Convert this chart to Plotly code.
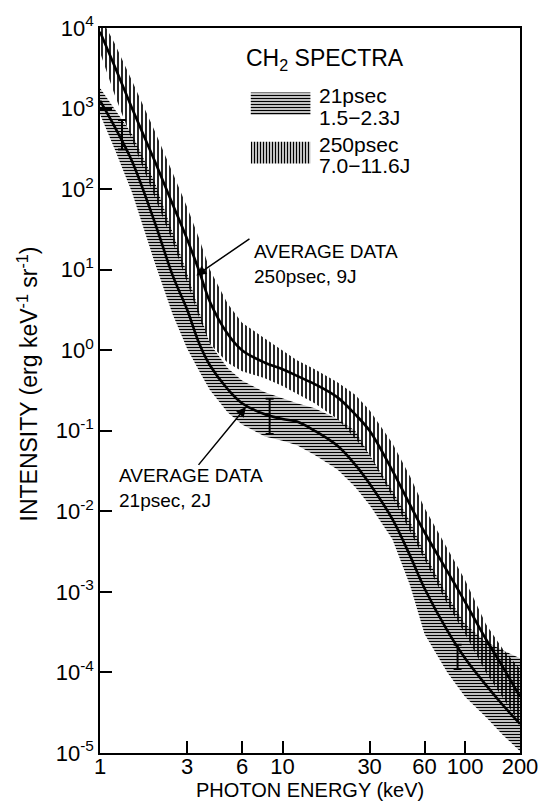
import numpy as np
import plotly.graph_objects as go

# ---------------- data ----------------
energy = [1, 1.2, 1.5, 2, 2.5, 3, 3.5, 4, 5, 6, 8, 10, 12, 15, 20, 25, 30, 40,
          50, 60, 80, 100, 130, 160, 200]

# 250 psec, 7.0-11.6 J  (vertical hatching)
avg_250 = [9000, 3400, 1000, 220, 65, 24, 9.5, 4.0, 1.6, 1.0, 0.70, 0.58, 0.48,
           0.38, 0.26, 0.16, 0.10, 0.032, 0.012, 0.0055, 0.0018, 0.00075,
           0.00026, 0.00012, 0.00005]
hi_250 = [14000, 6500, 2200, 520, 160, 60, 24, 10, 3.8, 2.2, 1.4, 1.0, 0.75,
          0.58, 0.40, 0.28, 0.18, 0.07, 0.027, 0.011, 0.0035, 0.0014, 0.0004,
          0.0002, 0.00011]
lo_250 = [5000, 1500, 400, 80, 22, 7, 2.5, 1.2, 0.7, 0.55, 0.45, 0.36, 0.29,
          0.22, 0.14, 0.08, 0.05, 0.015, 0.0055, 0.0025, 0.0007, 0.0003,
          0.0001, 0.00005, 0.000023]

# 21 psec, 1.5-2.3 J  (horizontal hatching)
avg_21 = [1250, 600, 220, 38, 8.5, 3.2, 1.2, 0.65, 0.33, 0.22, 0.16, 0.14, 0.13,
          0.10, 0.065, 0.038, 0.022, 0.008, 0.0028, 0.0011, 0.00033, 0.00015,
          0.00007, 0.00004, 0.000023]
hi_21 = [1800, 1000, 480, 120, 28, 9, 3, 1.2, 0.6, 0.42, 0.30, 0.25, 0.22,
         0.19, 0.14, 0.10, 0.05, 0.018, 0.0075, 0.003, 0.0009, 0.0004, 0.00024,
         0.00019, 0.00015]
lo_21 = [850, 320, 90, 12, 2.8, 1.05, 0.55, 0.32, 0.17, 0.12, 0.085, 0.075,
         0.066, 0.05, 0.033, 0.02, 0.012, 0.0045, 0.0012, 0.0003, 0.0001,
         0.00005, 0.000028, 0.000017, 0.0000105]

# representative error bars
err_x = [1.32, 8.5, 91]
err_mid = [470, 0.15, 1.6e-4]
err_lo = [310, 0.091, 1.1e-4]
err_hi = [720, 0.25, 2.2e-4]

x_ticks = [1, 3, 6, 10, 30, 60, 100, 200]
x_ticktext = ["1", "3", "6", "10", "30", "60", "100", "200"]
y_exps = [-5, -4, -3, -2, -1, 0, 1, 2, 3, 4]

# ---------------- figure ----------------
FONT = "Liberation Sans, Arial, sans-serif"
fig = go.Figure()

def band(lo, hi, shape, size, solidity):
    fig.add_trace(go.Scatter(x=energy, y=lo, mode="lines",
                             line=dict(width=0, color="rgba(0,0,0,0)"),
                             showlegend=False, hoverinfo="skip"))
    fig.add_trace(go.Scatter(x=energy, y=hi, mode="lines",
                             line=dict(width=0, color="rgba(0,0,0,0)"),
                             fill="tonexty", fillcolor="rgba(0,0,0,0)",
                             fillpattern=dict(shape=shape, fgcolor="black",
                                              bgcolor="rgba(0,0,0,0)",
                                              size=size, solidity=solidity,
                                              fillmode="replace"),
                             showlegend=False, hoverinfo="skip"))

band(lo_21, hi_21, "-", 3, 0.5)
band(lo_250, hi_250, "|", 4, 0.42)

fig.add_trace(go.Scatter(x=energy, y=avg_21, mode="lines",
                         line=dict(color="black", width=2.6, shape="spline"),
                         showlegend=False))
fig.add_trace(go.Scatter(x=energy, y=avg_250, mode="lines",
                         line=dict(color="black", width=2.6, shape="spline"),
                         showlegend=False))

fig.add_trace(go.Scatter(
    x=err_x, y=err_mid, mode="markers",
    marker=dict(size=1, color="black"),
    error_y=dict(type="data", symmetric=False,
                 array=[h - m for h, m in zip(err_hi, err_mid)],
                 arrayminus=[m - l for m, l in zip(err_mid, err_lo)],
                 color="black", thickness=2, width=4),
    showlegend=False))

# legend swatches on an overlay linear axis (paper-like 0..1 coordinates)
sw = [(0.359, 0.501, 0.880, 0.911, "-", 3, 0.5),
      (0.359, 0.501, 0.813, 0.843, "|", 3, 0.5)]
for x0, x1, y0, y1, shp, sz, so in sw:
    fig.add_trace(go.Scatter(x=[x0, x1, x1, x0, x0], y=[y0, y0, y1, y1, y0],
                             xaxis="x2", yaxis="y2", mode="lines",
                             line=dict(width=0, color="rgba(0,0,0,0)"),
                             fill="toself", fillcolor="rgba(0,0,0,0)",
                             fillpattern=dict(shape=shp, fgcolor="black",
                                              bgcolor="rgba(0,0,0,0)",
                                              size=sz, solidity=so,
                                              fillmode="replace"),
                             showlegend=False, hoverinfo="skip"))

ann = []
def txt(x, y, t, size=20, xanchor="left", yanchor="middle", angle=0):
    ann.append(dict(x=x, y=y, xref="paper", yref="paper", text=t,
                    showarrow=False, xanchor=xanchor, yanchor=yanchor,
                    align="left", textangle=angle,
                    font=dict(family=FONT, size=size, color="black")))

txt(0.343, 0.956, "CH<sub>2</sub> SPECTRA", size=23)
txt(0.517, 0.907, "21psec", size=21)
txt(0.517, 0.877, "1.5−2.3J", size=21)
txt(0.517, 0.839, "250psec", size=21)
txt(0.517, 0.810, "7.0−11.6J", size=21)
txt(0.3617, 0.6746, "AVERAGE DATA<br>250psec, 9J", size=19)
txt(0.0402, 0.365, "AVERAGE DATA<br>21psec, 2J", size=19)
txt(0.5, -0.0515, "PHOTON ENERGY (keV)", size=20, xanchor="center")
txt(-0.1726, 0.509, "INTENSITY (erg keV<sup>-1</sup> sr<sup>-1</sup>)",
    size=23, xanchor="center", angle=-90)

# arrows (positions in log10 units for log axes)
for tip, tail in [((0.528, 0.929), (0.827, 1.396)),
                  ((0.80, -0.705), (0.533, -1.442))]:
    ann.append(dict(x=tip[0], y=tip[1], ax=tail[0], ay=tail[1],
                    xref="x", yref="y", axref="x", ayref="y", text="",
                    showarrow=True, arrowhead=2, arrowsize=1.3,
                    arrowwidth=1.5, arrowcolor="black"))

fig.update_layout(
    width=550, height=804,
    margin=dict(l=100, r=27, t=20, b=51),
    paper_bgcolor="white", plot_bgcolor="white",
    annotations=ann,
    font=dict(family=FONT, color="black"),
    xaxis=dict(type="log", range=[0, np.log10(200)],
               tickvals=x_ticks, ticktext=x_ticktext,
               ticks="inside", ticklen=12, tickwidth=1.5, tickcolor="black",
               showline=True, linewidth=1.5, linecolor="black", mirror=True,
               showgrid=False, zeroline=False, ticklabelstandoff=-7,
               tickfont=dict(family=FONT, size=22, color="black")),
    yaxis=dict(type="log", range=[-5, 4],
               tickvals=[10.0 ** e for e in y_exps],
               ticktext=["10<sup>%d</sup>" % e for e in y_exps],
               ticks="inside", ticklen=12, tickwidth=1.5, tickcolor="black",
               showline=True, linewidth=1.5, linecolor="black", mirror=True,
               showgrid=False, zeroline=False,
               tickfont=dict(family=FONT, size=22, color="black")),
    xaxis2=dict(overlaying="x", range=[0, 1], visible=False, fixedrange=True),
    yaxis2=dict(overlaying="y", range=[0, 1], visible=False, fixedrange=True),
)

fig.write_html("out.html", config={"displayModeBar": False},
               post_script="document.body.style.margin='0';"
                           "document.body.style.overflow='hidden';")
